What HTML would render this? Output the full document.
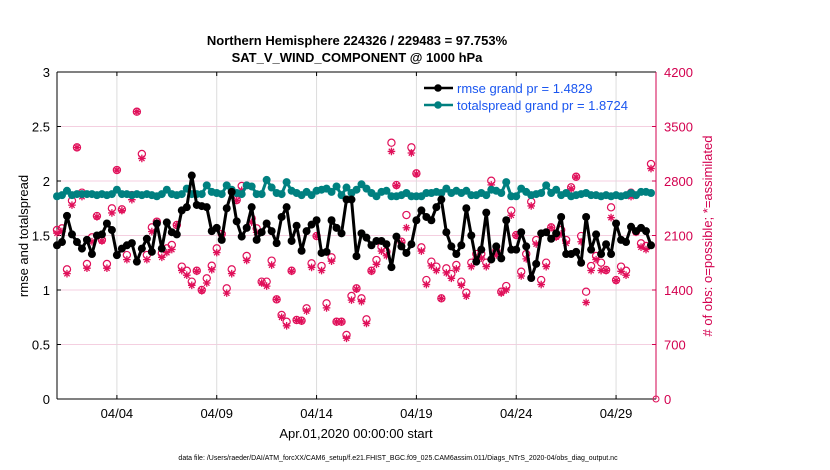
<!DOCTYPE html>
<html><head><meta charset="utf-8"><style>
body{margin:0;background:#fff;}
svg{display:block;font-family:"Liberation Sans",sans-serif;}
</style></head><body>
<svg id="chart" width="830" height="470">
<text x="357" y="45" text-anchor="middle" font-size="13" font-weight="bold">Northern Hemisphere 224326 / 229483 = 97.753%</text>
<text x="357" y="62" text-anchor="middle" font-size="13" font-weight="bold">SAT_V_WIND_COMPONENT @ 1000 hPa</text>
<g id="grid"></g>
<g id="axes"></g>
<g id="marks"></g>
<text transform="translate(28,236) rotate(-90)" text-anchor="middle" font-size="13">rmse and totalspread</text>
<text transform="translate(712,236) rotate(-90)" text-anchor="middle" font-size="13" fill="#d3004f"># of obs: o=possible; *=assimilated</text>
<text x="356" y="438" text-anchor="middle" font-size="13">Apr.01,2020 00:00:00 start</text>
<text x="398" y="460" text-anchor="middle" font-size="7">data file: /Users/raeder/DAI/ATM_forcXX/CAM6_setup/f.e21.FHIST_BGC.f09_025.CAM6assim.011/Diags_NTrS_2020-04/obs_diag_output.nc</text>
<g>
<line x1="424" y1="88" x2="453" y2="88" stroke="#000" stroke-width="2.5"/><circle cx="438" cy="88" r="3.8" fill="#000"/>
<text x="457" y="93" font-size="13" fill="#1a56f0">rmse grand pr = 1.4829</text>
<line x1="424" y1="105" x2="453" y2="105" stroke="#008080" stroke-width="2.5"/><circle cx="438" cy="105" r="3.8" fill="#008080"/>
<text x="457" y="110" font-size="13" fill="#1a56f0">totalspread grand pr = 1.8724</text>
</g>
</svg>
<script>
const rmse=[1.41,1.44,1.68,1.51,1.44,1.38,1.46,1.33,1.50,1.51,1.61,1.55,1.32,1.38,1.41,1.43,1.26,1.38,1.47,1.35,1.61,1.38,1.62,1.53,1.51,1.73,1.76,2.05,1.78,1.77,1.76,1.54,1.57,1.46,1.75,1.90,1.63,1.49,1.57,1.76,1.46,
1.53,1.61,1.54,1.43,1.67,1.76,1.45,1.59,1.36,1.54,1.60,1.64,1.34,1.35,1.64,1.57,1.52,1.83,1.83,1.31,1.52,1.48,1.41,1.45,1.45,1.42,1.21,1.49,1.40,1.34,1.42,1.64,1.73,1.67,1.64,1.76,1.83,1.53,1.40,1.33,
1.41,1.75,1.50,1.26,1.37,1.71,1.28,1.40,1.29,1.64,1.37,1.37,1.53,1.40,1.11,1.24,1.52,1.53,1.47,1.52,1.67,1.33,1.33,1.35,1.25,1.67,1.37,1.51,1.33,1.42,1.33,1.61,1.46,1.44,1.58,1.54,1.57,1.54,1.41];
const spread=[1.86,1.87,1.91,1.87,1.88,1.88,1.88,1.88,1.87,1.88,1.87,1.88,1.92,1.88,1.88,1.87,1.88,1.87,1.88,1.87,1.86,1.88,1.92,1.88,1.87,1.88,1.93,1.88,1.88,1.88,1.96,1.90,1.89,1.88,1.96,1.92,1.89,1.88,1.96,1.95,1.88,
1.88,2.01,1.94,1.89,1.88,1.99,1.91,1.89,1.87,1.90,1.87,1.91,1.92,1.93,1.90,1.95,1.87,1.94,1.89,1.92,1.97,1.93,1.89,1.86,1.90,1.91,1.86,1.86,1.87,1.89,1.86,1.86,1.86,1.89,1.89,1.90,1.89,1.93,1.89,1.91,
1.89,1.91,1.87,1.87,1.89,1.87,1.92,1.91,1.89,1.99,1.86,1.86,1.93,1.90,1.87,1.88,1.89,1.96,1.89,1.92,1.87,1.89,1.86,1.87,1.88,1.89,1.87,1.87,1.86,1.87,1.86,1.87,1.86,1.87,1.89,1.87,1.90,1.90,1.89];
const possible=[2171,2192,1665,2547,3232,2650,1734,2076,2350,2042,1734,2449,2941,2436,1849,2620,3690,3147,1849,2205,2278,1871,1935,1978,2235,1700,1648,1507,1648,1400,1550,1712,1935,2119,1421,1665,2556,2736,1837,2320,2192,
1507,1507,1777,1280,1079,993,1648,1015,1006,1164,1742,2093,1708,1229,1819,993,993,822,1323,1421,1293,1023,1648,1785,1956,1892,3292,2748,2020,2363,3232,2898,1948,1528,1764,1700,1293,1678,1605,1721,
1507,1366,1751,1862,1862,1751,2804,1905,1378,1451,2419,2106,1635,1862,2534,2042,1528,1751,2205,2093,2171,2042,2718,2855,2093,1378,1708,1837,1751,1657,2462,1528,1700,1648,2650,2149,1999,1965,3018];
const assimilated=[2130,2150,1610,2490,3230,2600,1680,2020,2340,2030,1680,2390,2940,2420,1790,2560,3690,3090,1790,2150,2270,1820,1880,1920,2230,1650,1590,1460,1640,1390,1490,1660,1880,2110,1360,1610,2550,2680,1780,2270,2140,
1490,1450,1720,1280,1050,940,1640,1010,1000,1130,1690,2090,1650,1170,1770,990,990,780,1270,1410,1250,970,1640,1730,1900,1840,3180,2740,2010,2200,3160,2890,1900,1470,1710,1650,1290,1620,1550,1670,
1460,1320,1700,1810,1810,1700,2750,1850,1360,1400,2360,2100,1580,1800,2480,1990,1470,1700,2200,2080,2120,2000,2700,2850,2020,1240,1650,1790,1650,1650,2330,1520,1640,1590,2600,2140,1950,1920,2960];
const xTickLabels=["04/04","04/09","04/14","04/19","04/24","04/29"];
const xTickDays=[3,8,13,18,23,28];
const yTicks=[0,0.5,1,1.5,2,2.5,3];
const yRightTicks=[0,700,1400,2100,2800,3500,4200];

const X0=57,X1=656,Y0=399,Y1=72,DAYS=30;
const xs=d=>X0+(X1-X0)*d/DAYS;
const yL=v=>Y0-(Y0-Y1)*v/3;
const yR=v=>Y0-(Y0-Y1)*v/4200;
const NS="http://www.w3.org/2000/svg";
function mk(tag,attrs,parent){const e=document.createElementNS(NS,tag);for(const k in attrs)e.setAttribute(k,attrs[k]);parent.appendChild(e);return e;}
const grid=document.getElementById('grid'),axes=document.getElementById('axes'),marks=document.getElementById('marks');
yTicks.forEach((t,i)=>{
  if(i>0&&i<yTicks.length-1){const g=mk('line',{x1:X0,x2:X1,y1:yL(t),y2:yL(t),stroke:'#f4cfe0','stroke-width':1},grid);
  
  }
  const tx=mk('text',{x:X0-7,y:yL(t)+5,'text-anchor':'end','font-size':13},axes);tx.textContent=String(t);
  
  
  mk('line',{x1:X0,x2:X0+4,y1:yL(t),y2:yL(t),stroke:'#000'},axes);
});
yRightTicks.forEach(t=>{
  const tx=mk('text',{x:X1+8,y:yR(t)+5,'font-size':13,fill:'#d3004f'},axes);tx.textContent=String(t);
  
  
  mk('line',{x1:X1-4,x2:X1,y1:yR(t),y2:yR(t),stroke:'#d3004f'},axes);
});
xTickDays.forEach((d,i)=>{
  const g=mk('line',{x1:xs(d),x2:xs(d),y1:Y1,y2:Y0,stroke:'#dcdcdc'},grid);
  
  
  const tx=mk('text',{x:xs(d),y:Y0+19,'text-anchor':'middle','font-size':13},axes);tx.textContent=xTickLabels[i];
  
  
  mk('line',{x1:xs(d),x2:xs(d),y1:Y0,y2:Y0-4,stroke:'#000'},axes);
  mk('line',{x1:xs(d),x2:xs(d),y1:Y1,y2:Y1+4,stroke:'#000'},axes);
});
mk('line',{x1:X0,x2:X1,y1:Y1,y2:Y1,stroke:'#000'},axes);
mk('line',{x1:X0,x2:X1,y1:Y0,y2:Y0,stroke:'#000'},axes);
mk('line',{x1:X0,x2:X0,y1:Y1,y2:Y0,stroke:'#000'},axes);
mk('line',{x1:X1,x2:X1,y1:Y1,y2:Y0,stroke:'#d3004f'},axes);

const tOf=i=>i*0.25;
possible.forEach((v,i)=>{
  const c=mk('circle',{cx:xs(tOf(i)),cy:yR(v),r:3.6,fill:'none',stroke:'#e0105a','stroke-width':1.2},marks);
  
  
});
assimilated.forEach((v,i)=>{
  const cx=xs(tOf(i)),cy=yR(v),s=3.8;
  const d=`M${cx-s},${cy}H${cx+s}M${cx},${cy-s}V${cy+s}M${cx-s*0.7},${cy-s*0.7}L${cx+s*0.7},${cy+s*0.7}M${cx-s*0.7},${cy+s*0.7}L${cx+s*0.7},${cy-s*0.7}`;
  const p=mk('path',{d:d,stroke:'#e0105a','stroke-width':1.3,fill:'none'},marks);
  
  
});
const zc=mk('circle',{cx:X1,cy:Y0,r:3,fill:'none',stroke:'#e0105a'},marks);


function series(arr,color,name){
  const pts=arr.map((v,i)=>xs(tOf(i))+','+yL(v)).join(' ');
  const pl=mk('polyline',{points:pts,fill:'none',stroke:color,'stroke-width':3,'stroke-linejoin':'round'},marks);
  
  
  arr.forEach((v,i)=>{
    const c=mk('circle',{cx:xs(tOf(i)),cy:yL(v),r:4,fill:color},marks);
    
    
  });
}
series(spread,'#008080','totalspread');
series(rmse,'#000','rmse');
</script>
</body></html>
